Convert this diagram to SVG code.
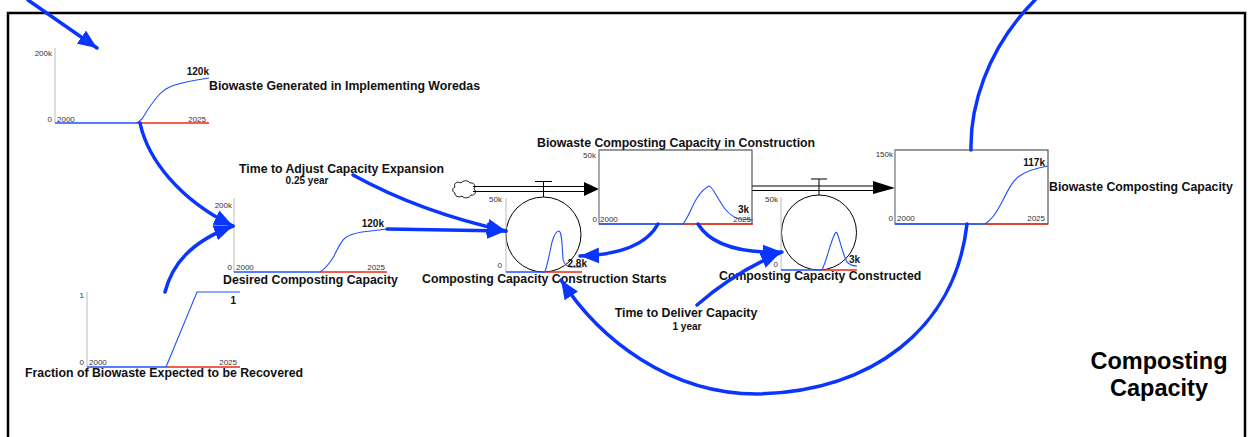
<svg xmlns="http://www.w3.org/2000/svg" width="1248" height="437" viewBox="0 0 1248 437">
<defs>
<style>
.lbl{font-family:"Liberation Sans",Arial,sans-serif;font-weight:bold;font-size:12.3px;fill:#111}
.val{font-family:"Liberation Sans",Arial,sans-serif;font-weight:bold;font-size:10px;fill:#111}
.ax{font-family:"Liberation Sans",Arial,sans-serif;font-size:8px;fill:#333}
.axis{stroke:#bbb;stroke-width:1;fill:none}
.base-b{stroke:#2050ff;stroke-width:1.5;fill:none}
.base-r{stroke:#ee2a10;stroke-width:1.5;fill:none}
.curve{stroke:#2050ff;stroke-width:1.1;fill:none}
.link{stroke:#0a35ff;stroke-width:3.5;fill:none;stroke-linecap:round}
.pipe{stroke:#000;stroke-width:1;fill:none}
.box{fill:#fff;stroke:#333;stroke-width:1}
.valve{fill:none;stroke:#000;stroke-width:1}
.big{font-family:"Liberation Sans",Arial,sans-serif;font-weight:bold;font-size:23px;fill:#000}
</style>
<marker id="ah" markerUnits="userSpaceOnUse" markerWidth="20" markerHeight="16" refX="19" refY="8" orient="auto">
<path d="M0,0 L19,8 L0,16 z" fill="#0a35ff"/>
</marker>
</defs>
<rect x="0" y="0" width="1248" height="437" fill="#fff"/>
<rect x="8" y="13" width="1237" height="440" fill="none" stroke="#000" stroke-width="2.5"/>

<g id="biowaste-generated">
<line class="axis" x1="55" y1="48" x2="55" y2="123"/>
<line class="base-b" x1="55" y1="123" x2="138" y2="123"/>
<line class="base-r" x1="138" y1="123" x2="209" y2="123"/>
<path class="curve" d="M137,123 L142,119 C147,110 152,103 157,97 C162,91 167,88 172,86 C182,82 195,80 209,78"/>
<text class="ax" x="52" y="56" text-anchor="end">200k</text>
<text class="ax" x="52" y="122" text-anchor="end">0</text>
<text class="ax" x="57" y="122">2000</text>
<text class="ax" x="206" y="122" text-anchor="end">2025</text>
<text class="val" x="209" y="75" text-anchor="end">120k</text>
<text class="lbl" x="209" y="90">Biowaste Generated in Implementing Woredas</text>
</g>

<g id="desired-composting-capacity">
<line class="axis" x1="234" y1="198" x2="234" y2="272"/>
<line class="base-b" x1="234" y1="272" x2="320" y2="272"/>
<line class="base-r" x1="320" y1="272" x2="387" y2="272"/>
<path class="curve" d="M320,272 C326,268 330,263 334,256 C338,248 341,241 345,238 C350,234 356,233 362,232 C372,231 380,230 387,229"/>
<text class="ax" x="232" y="208" text-anchor="end">200k</text>
<text class="ax" x="232" y="270" text-anchor="end">0</text>
<text class="ax" x="236" y="270">2000</text>
<text class="ax" x="385" y="270" text-anchor="end">2025</text>
<text class="val" x="384" y="227" text-anchor="end">120k</text>
<text class="lbl" x="223" y="284">Desired Composting Capacity</text>
</g>

<g id="fraction-recovered">
<line class="axis" x1="87" y1="292" x2="87" y2="367"/>
<line class="base-b" x1="87" y1="367" x2="166" y2="367"/>
<line class="base-r" x1="166" y1="367" x2="240" y2="367"/>
<path class="curve" d="M166,367 L197,292 L240,292"/>
<text class="ax" x="84" y="298" text-anchor="end">1</text>
<text class="ax" x="84" y="365" text-anchor="end">0</text>
<text class="ax" x="89" y="365">2000</text>
<text class="ax" x="237" y="365" text-anchor="end">2025</text>
<text class="val" x="236" y="304" text-anchor="end">1</text>
<text class="lbl" x="25" y="377">Fraction of Biowaste Expected to be Recovered</text>
</g>

<g id="time-to-adjust">
<text class="lbl" x="239" y="173">Time to Adjust Capacity Expansion</text>
<text class="val" x="307" y="184" text-anchor="middle">0.25 year</text>
</g>

<g id="time-to-deliver">
<text class="lbl" x="686" y="317" text-anchor="middle">Time to Deliver Capacity</text>
<text class="val" x="687" y="330" text-anchor="middle">1 year</text>
</g>

<g id="pipes">
<path d="M455,187 c-2,-4 3,-6 6,-4 c2,-3 7,-3 9,0 c4,-1 6,3 4,6 c3,2 1,7 -3,6 c-1,3 -7,4 -9,1 c-3,2 -8,0 -7,-3 c-3,-1 -3,-5 0,-6 z" fill="#fff" stroke="#000" stroke-width="0.9"/>
<line class="pipe" x1="473" y1="186.5" x2="585" y2="186.5"/>
<line class="pipe" x1="473" y1="191.5" x2="585" y2="191.5"/>
<path d="M584,182 L599,189 L584,196 z" fill="#000"/>
<line class="pipe" x1="752" y1="186" x2="874" y2="186"/>
<line class="pipe" x1="752" y1="190.5" x2="874" y2="190.5"/>
<path d="M873,181 L895,188 L873,194 z" fill="#000"/>
</g>

<g id="construction-starts">
<line class="valve" x1="543.5" y1="181.5" x2="543.5" y2="197"/>
<line class="valve" x1="535" y1="181.5" x2="552" y2="181.5"/>
<circle class="valve" cx="543.5" cy="234.5" r="37.5"/>
<line class="axis" x1="506" y1="198" x2="506" y2="272"/>
<line class="base-b" x1="506" y1="272" x2="545" y2="272"/>
<line class="base-r" x1="545" y1="272" x2="582" y2="272"/>
<path class="curve" d="M545,272 C548,262 550,252 552,242 C554,235 556,231 559,231 C562,232 562,245 563,259 C564,264 566,266 570,267 L582,267"/>
<text class="ax" x="502" y="202" text-anchor="end">50k</text>
<text class="ax" x="502" y="268" text-anchor="end">0</text>
<text class="val" x="587" y="267" text-anchor="end">2.8k</text>
<text class="lbl" x="422" y="283">Composting Capacity Construction Starts</text>
</g>

<g id="capacity-in-construction">
<rect class="box" x="599" y="150" width="153" height="74"/>
<line class="axis" x1="599" y1="150" x2="599" y2="224"/>
<line class="base-b" x1="599" y1="224" x2="683" y2="224"/>
<line class="base-r" x1="683" y1="224" x2="753" y2="224"/>
<path class="curve" d="M683,224 C688,218 692,206 697,198 C701,192 705,188 709,186 C712,186 716,196 725,209 C730,215 734,218 740,219 L753,220"/>
<text class="ax" x="596" y="158" text-anchor="end">50k</text>
<text class="ax" x="597" y="222" text-anchor="end">0</text>
<text class="ax" x="600" y="222">2000</text>
<text class="ax" x="751" y="222" text-anchor="end">2025</text>
<text class="val" x="749" y="213" text-anchor="end">3k</text>
<text class="lbl" x="537" y="147">Biowaste Composting Capacity in Construction</text>
</g>

<g id="capacity-constructed">
<line class="valve" x1="819" y1="179" x2="819" y2="195"/>
<line class="valve" x1="811" y1="179" x2="827" y2="179"/>
<circle class="valve" cx="819" cy="232.5" r="37.5"/>
<line class="axis" x1="781" y1="197" x2="781" y2="270"/>
<line class="base-b" x1="781" y1="270" x2="822" y2="270"/>
<line class="base-r" x1="822" y1="270" x2="857" y2="270"/>
<path class="curve" d="M822,270 C826,262 830,245 833,238 C835,233 836,231 837,233 C840,240 843,255 847,262 C850,265 853,266 857,266"/>
<text class="ax" x="778" y="202" text-anchor="end">50k</text>
<text class="ax" x="778" y="267" text-anchor="end">0</text>
<text class="val" x="860" y="263" text-anchor="end">3k</text>
<text class="lbl" x="719" y="280">Composting Capacity Constructed</text>
</g>

<g id="composting-capacity-stock">
<rect class="box" x="895" y="150" width="153" height="74"/>
<line class="axis" x1="895" y1="150" x2="895" y2="224"/>
<line class="base-b" x1="895" y1="224" x2="985" y2="224"/>
<line class="base-r" x1="985" y1="224" x2="1048" y2="224"/>
<path class="curve" d="M985,224 C990,221 996,214 1002,202 C1008,190 1012,182 1018,177 C1026,171 1036,168 1048,166"/>
<text class="ax" x="893" y="157" text-anchor="end">150k</text>
<text class="ax" x="893" y="221" text-anchor="end">0</text>
<text class="ax" x="897" y="221">2000</text>
<text class="ax" x="1045" y="221" text-anchor="end">2025</text>
<text class="val" x="1045" y="166" text-anchor="end">117k</text>
<text class="lbl" x="1049" y="191">Biowaste Composting Capacity</text>
</g>

<g id="title">
<text class="big" x="1159" y="369" text-anchor="middle" textLength="137" lengthAdjust="spacingAndGlyphs">Composting</text>
<text class="big" x="1159" y="396" text-anchor="middle" textLength="98" lengthAdjust="spacingAndGlyphs">Capacity</text>
</g>

<g id="connectors">
<path class="link" d="M28,0 L97,48" marker-end="url(#ah)"/>
<path class="link" d="M140,123 C148,160 180,200 233,226" marker-end="url(#ah)"/>
<path class="link" d="M165,292 C172,265 190,242 233,226" marker-end="url(#ah)"/>
<path class="link" d="M387,229 L506,231" marker-end="url(#ah)"/>
<path class="link" d="M353,175 Q420,212 506,231" marker-end="url(#ah)"/>
<path class="link" d="M658,224 Q642,254 580,256" marker-end="url(#ah)"/>
<path class="link" d="M698,224 Q716,254 782,252" marker-end="url(#ah)"/>
<path class="link" d="M697,305 Q735,272 780,253" marker-end="url(#ah)"/>
<path class="link" d="M967,224 C955,330 870,392 757,394 C670,394 600,340 561,280" marker-end="url(#ah)"/>
<path class="link" d="M971,150 C970,110 985,50 1035,0"/>
</g>
</svg>
